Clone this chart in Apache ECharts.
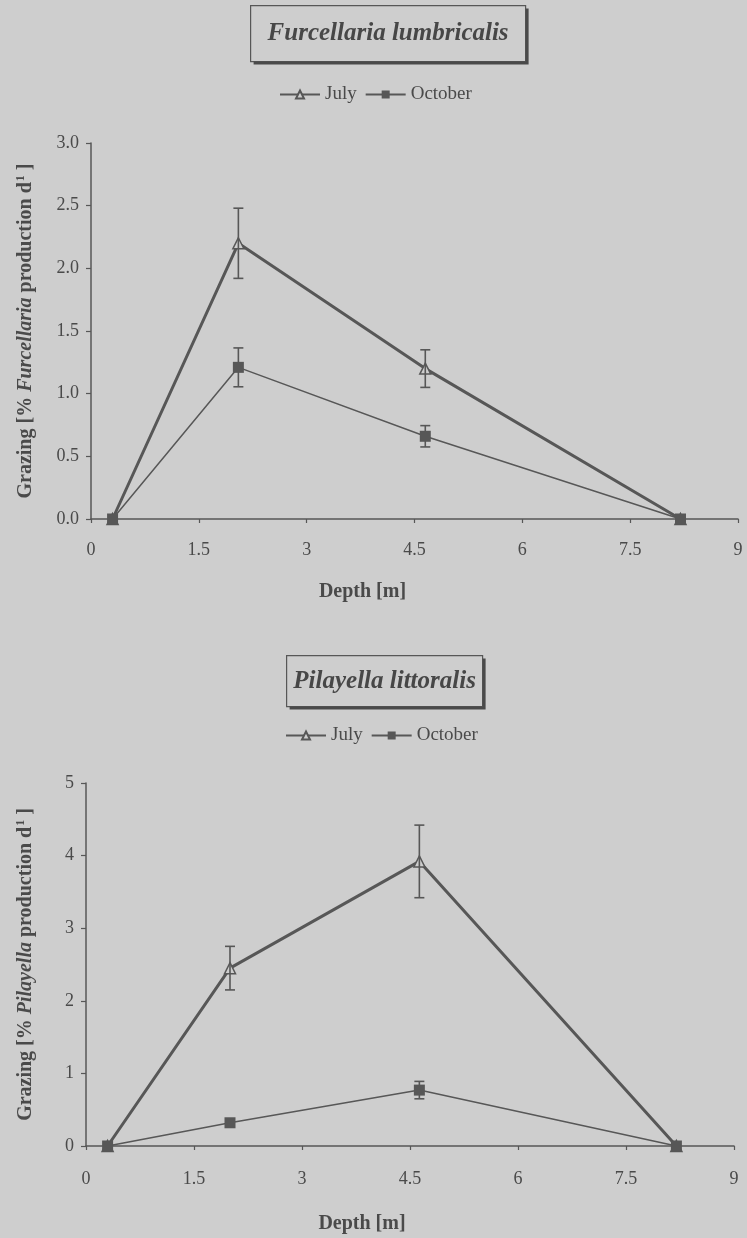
<!DOCTYPE html>
<html>
<head>
<meta charset="utf-8">
<title>Grazing vs depth</title>
<script src="https://cdn.jsdelivr.net/npm/echarts@6/dist/echarts.min.js"></script>
<style>
  html, body { margin: 0; padding: 0; background: #cecece; }
  #chart { width: 747px; height: 1238px; }
</style>
</head>
<body>
<div id="chart"></div>
<script>
// Depth ticks (m) shared by both panels
const depthTicks = [0, 1.5, 3, 4.5, 6, 7.5, 9];

// Furcellaria lumbricalis panel
const furcDepth = [0.3, 2.05, 4.65, 8.2];
const furcJuly = [0, 2.2, 1.2, 0];
const furcJulyErr = [0, 0.28, 0.15, 0];
const furcOct = [0, 1.21, 0.66, 0];
const furcOctErr = [0, 0.155, 0.085, 0];
const furcYTicks = ['0.0', '0.5', '1.0', '1.5', '2.0', '2.5', '3.0'];

// Pilayella littoralis panel
const pilDepth = [0.3, 2.0, 4.63, 8.2];
const pilJuly = [0, 2.45, 3.92, 0];
const pilJulyErr = [0, 0.3, 0.5, 0];
const pilOct = [0, 0.32, 0.77, 0];
const pilOctErr = [0, 0.03, 0.12, 0];
const pilYTicks = ['0', '1', '2', '3', '4', '5'];

const BG = '#cecece';
const INK = '#575757';
const TEXT = '#4a4a4a';
const SERIF = '"Liberation Serif", "Times New Roman", serif';

function pairs(xs, ys) { return xs.map((x, i) => [x, ys[i]]); }
function bars(xs, ys, es) {
  const out = [];
  xs.forEach((x, i) => { if (es[i] > 0) out.push([x, ys[i] - es[i], ys[i] + es[i]]); });
  return out;
}

function errorBarItem(params, api) {
  const x = api.value(0);
  const lo = api.coord([x, api.value(1)]);
  const hi = api.coord([x, api.value(2)]);
  const w = 5;
  const style = { stroke: INK, lineWidth: 1.6 };
  return {
    type: 'group',
    children: [
      { type: 'line', shape: { x1: hi[0], y1: hi[1], x2: lo[0], y2: lo[1] }, style },
      { type: 'line', shape: { x1: hi[0] - w, y1: hi[1], x2: hi[0] + w, y2: hi[1] }, style },
      { type: 'line', shape: { x1: lo[0] - w, y1: lo[1], x2: lo[0] + w, y2: lo[1] }, style }
    ]
  };
}

function xAxisFor(gridIndex, namePad, labelMargin, nameGap) {
  return {
    type: 'value', gridIndex, min: 0, max: 9, interval: 1.5,
    axisLine: { show: true, lineStyle: { color: INK, width: 1.5 } },
    axisTick: { show: true, length: 4, lineStyle: { color: INK, width: 1.2 } },
    splitLine: { show: false },
    axisLabel: {
      margin: labelMargin, color: TEXT, fontFamily: SERIF, fontSize: 18,
      formatter: v => { const i = depthTicks.indexOf(+v.toFixed(1)); return i >= 0 ? String(depthTicks[i]) : ''; }
    },
    name: 'Depth [m]', nameLocation: 'middle', nameGap,
    nameTextStyle: { color: TEXT, fontFamily: SERIF, fontSize: 20, fontWeight: 'bold', padding: [0, namePad, 0, 0] }
  };
}

function yAxisFor(gridIndex, max, interval, ticks, genus, nameGap) {
  return {
    type: 'value', gridIndex, min: 0, max, interval,
    axisLine: { show: true, lineStyle: { color: INK, width: 1.5 } },
    axisTick: { show: true, length: 5, lineStyle: { color: INK, width: 1.2 } },
    splitLine: { show: false },
    axisLabel: {
      margin: 12, color: TEXT, fontFamily: SERIF, fontSize: 18,
      formatter: v => ticks[Math.round(v / interval)]
    },
    name: '{b|Grazing [% }{i|' + genus + '}{b| production d}{s|1}{b| ]}',
    nameLocation: 'middle', nameRotate: 90, nameGap,
    nameTextStyle: {
      rich: {
        b: { fontFamily: SERIF, fontSize: 20, fontWeight: 'bold', color: TEXT },
        i: { fontFamily: SERIF, fontSize: 20, fontWeight: 'bold', fontStyle: 'italic', color: TEXT },
        s: { fontFamily: SERIF, fontSize: 12, fontWeight: 'bold', color: TEXT, verticalAlign: 'top', padding: [0, 0, 9, 1] }
      }
    }
  };
}

function panelSeries(idx, depth, july, julyErr, oct, octErr) {
  return [
    {
      name: 'July', type: 'line', xAxisIndex: idx, yAxisIndex: idx, z: 2,
      data: pairs(depth, july),
      lineStyle: { color: INK, width: 3 },
      symbol: 'triangle', symbolSize: 11,
      itemStyle: { color: BG, borderColor: INK, borderWidth: 1.5 }
    },
    {
      name: 'July err', type: 'custom', xAxisIndex: idx, yAxisIndex: idx, z: 3,
      renderItem: errorBarItem, data: bars(depth, july, julyErr)
    },
    {
      name: 'October err', type: 'custom', xAxisIndex: idx, yAxisIndex: idx, z: 3,
      renderItem: errorBarItem, data: bars(depth, oct, octErr)
    },
    {
      name: 'October', type: 'line', xAxisIndex: idx, yAxisIndex: idx, z: 4,
      data: pairs(depth, oct),
      lineStyle: { color: INK, width: 1.5 },
      symbol: 'rect', symbolSize: 11,
      itemStyle: { color: INK, borderColor: INK, borderWidth: 0 }
    }
  ];
}

function titleBox(x, y, w, h, text) {
  return {
    type: 'group', left: x, top: y,
    children: [
      { type: 'rect', shape: { x: 0, y: 0, width: w, height: h }, style: { fill: BG, stroke: INK, lineWidth: 1.2 } },
      { type: 'polyline', shape: { points: [[w + 1.5, 3], [w + 1.5, h + 1.5], [3, h + 1.5]] }, style: { fill: null, stroke: '#4a4a4a', lineWidth: 3 } },
      {
        type: 'text', x: w / 2, y: h / 2,
        style: {
          text, align: 'center', verticalAlign: 'middle',
          font: 'italic bold 25px ' + SERIF, fill: '#474747'
        }
      }
    ]
  };
}

const legendCommon = {
  data: ['July', 'October'], itemWidth: 40, itemHeight: 10, itemGap: 8,
  textStyle: { fontFamily: SERIF, fontSize: 19, color: TEXT }, selectedMode: false
};

const chart = echarts.init(document.getElementById('chart'));
chart.setOption({
  backgroundColor: BG,
  animation: false,
  grid: [
    { left: 91, right: 9, top: 143, height: 376 },
    { left: 86, right: 13, top: 783, height: 363 }
  ],
  legend: [
    Object.assign({ left: 274, top: 80 }, legendCommon),
    Object.assign({ left: 280, top: 721 }, legendCommon)
  ],
  xAxis: [xAxisFor(0, 104, 22, 63), xAxisFor(1, 96, 24, 68)],
  yAxis: [
    yAxisFor(0, 3, 0.5, furcYTicks, 'Furcellaria', 55),
    yAxisFor(1, 5, 1, pilYTicks, 'Pilayella', 50)
  ],
  series: [
    ...panelSeries(0, furcDepth, furcJuly, furcJulyErr, furcOct, furcOctErr),
    ...panelSeries(1, pilDepth, pilJuly, pilJulyErr, pilOct, pilOctErr)
  ],
  graphic: [
    titleBox(250, 5, 275, 56, 'Furcellaria lumbricalis'),
    titleBox(286, 655, 196, 51, 'Pilayella littoralis')
  ]
});
</script>
</body>
</html>
